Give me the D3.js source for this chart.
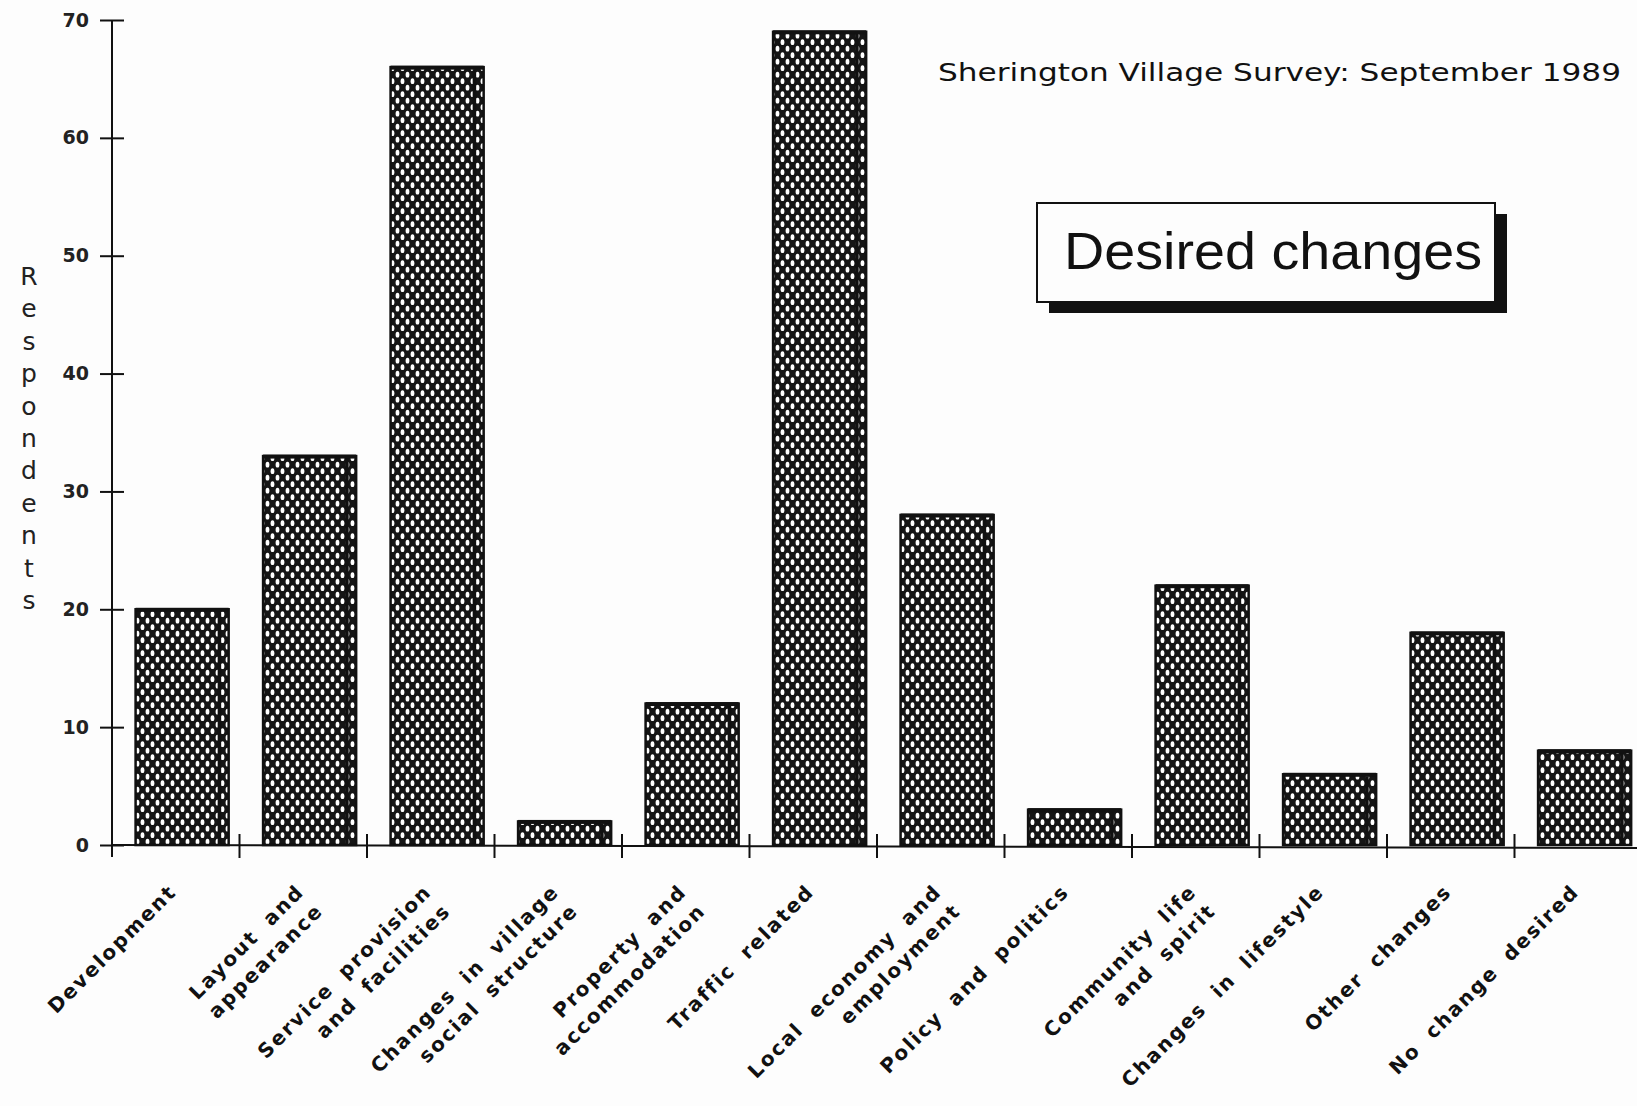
<!DOCTYPE html>
<html><head><meta charset="utf-8">
<script src="https://cdn.jsdelivr.net/npm/d3@7"></script>
<style>
html,body{margin:0;padding:0;background:#fdfdfd;}
svg{display:block;}
</style>
</head><body>
<script>
// ---- data ----
const categories = ["Development","Layout and appearance","Service provision and facilities","Changes in village social structure","Property and accommodation","Traffic related","Local economy and employment","Policy and politics","Community life and spirit","Changes in lifestyle","Other changes","No change desired"];
const labelLines = [["Development"],["Layout and","appearance"],["Service provision","and facilities"],["Changes in village","social structure"],["Property and","accommodation"],["Traffic related"],["Local economy and","employment"],["Policy and politics"],["Community life","and spirit"],["Changes in lifestyle"],["Other changes"],["No change desired"]];
const values = [20,33,66,2,12,69,28,3,22,6,18,8];
const yTicks = [0,10,20,30,40,50,60,70];
const title = "Sherington Village Survey: September 1989";
const boxTitle = "Desired changes";
const yLabel = "Respondents";

// ---- layout ----
const W = 1637, H = 1106;
const x0 = 112, bandW = 127.5;
const svg = d3.select("body").append("svg").attr("width", W).attr("height", H);

const defs = svg.append("defs");
const pat = defs.append("pattern").attr("id","dots").attr("patternUnits","userSpaceOnUse")
  .attr("width",10).attr("height",13);
pat.append("rect").attr("width",10).attr("height",13).attr("fill","#151515");
pat.append("ellipse").attr("cx",2.5).attr("cy",3.2).attr("rx",1.9).attr("ry",2.9).attr("fill","#fff");
pat.append("ellipse").attr("cx",7.5).attr("cy",9.7).attr("rx",1.9).attr("ry",2.9).attr("fill","#fff");

const x = d3.scaleBand().domain(categories).range([x0, x0 + bandW*categories.length]).padding(0);
const y = d3.scaleLinear().domain([0,70]).range([845,20]);

// bars
const bars = svg.append("g");
categories.forEach((c,i)=>{
  const bx = x(c) + x.bandwidth()*0.185, bw = x.bandwidth()*0.73;
  const top = y(values[i]), base = y(0);
  bars.append("rect").attr("x",bx).attr("y",top).attr("width",bw).attr("height",base-top)
    .attr("fill","url(#dots)").attr("stroke","#111").attr("stroke-width",2.5);
  bars.append("rect").attr("x",bx+bw-11).attr("y",top+2).attr("width",3.5).attr("height",Math.max(0,base-top-2))
    .attr("fill","#111");
  bars.append("rect").attr("x",bx).attr("y",top-1.5).attr("width",bw).attr("height",4).attr("fill","#111");
});

// y axis
const yAxis = d3.axisLeft(y).tickValues(yTicks).tickSizeInner(12).tickSizeOuter(0).tickPadding(10);
const gy = svg.append("g").attr("transform",`translate(${x0},0)`).call(yAxis);
gy.select(".domain").remove();
gy.selectAll(".tick line").attr("x2",-12).attr("x1",12).attr("stroke","#111").attr("stroke-width",2);
gy.selectAll(".tick text").attr("font-family","DejaVu Sans, sans-serif").attr("font-size",19).attr("font-weight","bold").attr("fill","#222").attr("dx",-1);
svg.append("line").attr("x1",x0).attr("x2",x0).attr("y1",y(70)).attr("y2",857).attr("stroke","#111").attr("stroke-width",2);

// x axis
svg.append("line").attr("x1",x0).attr("x2",W).attr("y1",y(0)).attr("y2",y(0)+3).attr("stroke","#111").attr("stroke-width",2);
const bounds = categories.map(c=>x(c)).slice(1);
svg.append("g").selectAll("line").data(bounds).join("line")
  .attr("x1",d=>d).attr("x2",d=>d).attr("y1",y(0)-11).attr("y2",y(0)+13)
  .attr("stroke","#111").attr("stroke-width",2);

// x labels
const lab = svg.append("g").attr("font-family","DejaVu Sans, sans-serif").attr("font-size",20).attr("font-weight","bold").attr("fill","#111")
  .attr("letter-spacing","2px").attr("word-spacing","7px");
categories.forEach((c,i)=>{
  const cx = x(c) + x.bandwidth()/2 + 2;
  const g = lab.append("g").attr("transform",`translate(${cx},893) rotate(-45)`);
  labelLines[i].forEach((ln,j)=>{
    g.append("text").attr("x",0).attr("y",j*27).attr("text-anchor","end").text(ln);
  });
});

// y label stacked
const yl = svg.append("g").attr("font-family","DejaVu Sans, sans-serif").attr("font-size",25).attr("fill","#222").attr("text-anchor","middle");
yLabel.split("").forEach((ch,i)=>{
  yl.append("text").attr("x",29).attr("y",285 + i*32.4).text(ch);
});

// top title
svg.append("text").attr("x",938).attr("y",81).attr("font-family","DejaVu Sans, sans-serif").attr("font-size",25)
  .attr("fill","#111").attr("textLength",683).attr("lengthAdjust","spacingAndGlyphs").text(title);

// box title
svg.append("rect").attr("x",1049).attr("y",214).attr("width",458).attr("height",99).attr("fill","#111");
svg.append("rect").attr("x",1037).attr("y",203).attr("width",458).attr("height",99).attr("fill","#fdfdfd").attr("stroke","#111").attr("stroke-width",2);
svg.append("text").attr("x",1064).attr("y",269).attr("font-family","Liberation Sans, Arial, sans-serif").attr("font-size",52)
  .attr("fill","#111").attr("textLength",418).attr("lengthAdjust","spacingAndGlyphs").text(boxTitle);
</script>
</body></html>
